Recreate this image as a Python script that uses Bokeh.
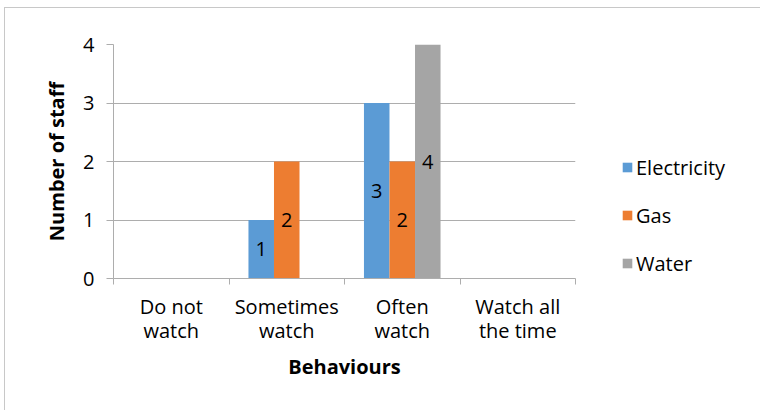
from bokeh.plotting import figure
from bokeh.layouts import row
from bokeh.models import ColumnDataSource, Range1d, FixedTicker, Legend, LegendItem
from bokeh.transform import dodge
from bokeh.core.properties import value
from bokeh.embed import file_html
from bokeh.resources import INLINE

categories = ["Do not\nwatch", "Sometimes\nwatch", "Often\nwatch", "Watch all\nthe time"]
series = ["Electricity", "Gas", "Water"]
electricity = [0, 1, 3, 0]
gas = [0, 2, 2, 0]
water = [0, 0, 4, 0]
colors = ["#5B9BD5", "#ED7D31", "#A5A5A5"]
y_ticks = [0, 1, 2, 3, 4]

FONT = "Open Sans"
GRID = "#ADADAD"
BAR_W = 0.221

values = [electricity, gas, water]
xc = [i + 0.5 for i in range(len(categories))]
data = {"x": xc}
for name, vals in zip(series, values):
    data[name] = vals
    data[name + "_mid"] = [v / 2 for v in vals]
    data[name + "_lab"] = [str(v) if v else "" for v in vals]
src = ColumnDataSource(data)

p = figure(width=575, height=402, x_range=Range1d(0, len(categories)),
           y_range=Range1d(min(y_ticks), max(y_ticks)),
           output_backend="svg", toolbar_location=None,
           min_border_left=108, min_border_top=36, min_border_right=5, min_border_bottom=132)
p.outline_line_color = None

offsets = [-BAR_W, 0, BAR_W]
for name, col, off in zip(series, colors, offsets):
    p.vbar(x=dodge("x", off), top=name, width=BAR_W, source=src,
           fill_color=col, line_color=None)
    p.text(x=dodge("x", off), y=name + "_mid", text=name + "_lab", source=src,
           text_align="center", text_baseline="middle", text_color="#000000",
           text_font=value(FONT), text_font_size="20px")

# y axis
p.yaxis.ticker = FixedTicker(ticks=y_ticks)
p.yaxis.axis_line_color = GRID
p.yaxis.major_tick_line_color = GRID
p.yaxis.major_tick_out = 7
p.yaxis.major_tick_in = 0
p.yaxis.minor_tick_line_color = None
p.yaxis.major_label_standoff = 12
p.yaxis.major_label_text_font = FONT
p.yaxis.major_label_text_font_size = "20px"
p.yaxis.major_label_text_color = "#000000"
p.yaxis.axis_label = "Number of staff"
p.yaxis.axis_label_text_font = FONT
p.yaxis.axis_label_text_font_style = "bold"
p.yaxis.axis_label_text_font_size = "20px"
p.yaxis.axis_label_text_color = "#000000"
p.yaxis.axis_label_standoff = 10

# x axis
p.xaxis.ticker = FixedTicker(ticks=xc, minor_ticks=list(range(len(categories) + 1)))
p.xaxis.major_label_overrides = {x: c for x, c in zip(xc, categories)}
p.xaxis.axis_line_color = GRID
p.xaxis.major_tick_line_color = None
p.xaxis.minor_tick_line_color = GRID
p.xaxis.minor_tick_out = 6
p.xaxis.minor_tick_in = 0
p.xaxis.major_tick_out = 6
p.xaxis.major_label_standoff = 8
p.xaxis.major_label_text_font = FONT
p.xaxis.major_label_text_font_size = "20px"
p.xaxis.major_label_text_line_height = 0.92
p.xaxis.major_label_text_color = "#000000"
p.xaxis.axis_label = "Behaviours"
p.xaxis.axis_label_text_font = FONT
p.xaxis.axis_label_text_font_style = "bold"
p.xaxis.axis_label_text_font_size = "20px"
p.xaxis.axis_label_text_color = "#000000"
p.xaxis.axis_label_standoff = 6

p.xgrid.grid_line_color = None
p.ygrid.ticker = FixedTicker(ticks=y_ticks)
p.ygrid.grid_line_color = GRID

# legend panel
pl = figure(width=180, height=402, x_range=Range1d(0, 1), y_range=Range1d(0, 1),
            output_backend="svg", toolbar_location=None,
            x_axis_location=None, y_axis_location=None,
            min_border_left=0, min_border_right=0, min_border_top=0, min_border_bottom=0)
pl.outline_line_color = None
pl.xgrid.grid_line_color = None
pl.ygrid.grid_line_color = None
items = []
for name, col in zip(series, colors):
    r = pl.vbar(x="x", top=name, width=BAR_W, source=src,
                fill_color=col, line_color=None, visible=False)
    items.append(LegendItem(label=name, renderers=[r]))

legend = Legend(items=items, location=(41, 1), orientation="vertical",
                glyph_width=12, glyph_height=12, label_height=28, spacing=20,
                label_standoff=3, padding=0, margin=0,
                border_line_color=None, background_fill_alpha=0,
                inactive_fill_alpha=0,
                label_text_font=FONT, label_text_font_size="20px",
                label_text_color="#000000")
pl.add_layout(legend)

layout = row(p, pl, styles={"border-left": "1px solid #C8C8C8", "border-top": "1px solid #C8C8C8",
                            "margin-left": "4px", "margin-top": "7px"})

open("out.html", "w").write(file_html(layout, INLINE))
